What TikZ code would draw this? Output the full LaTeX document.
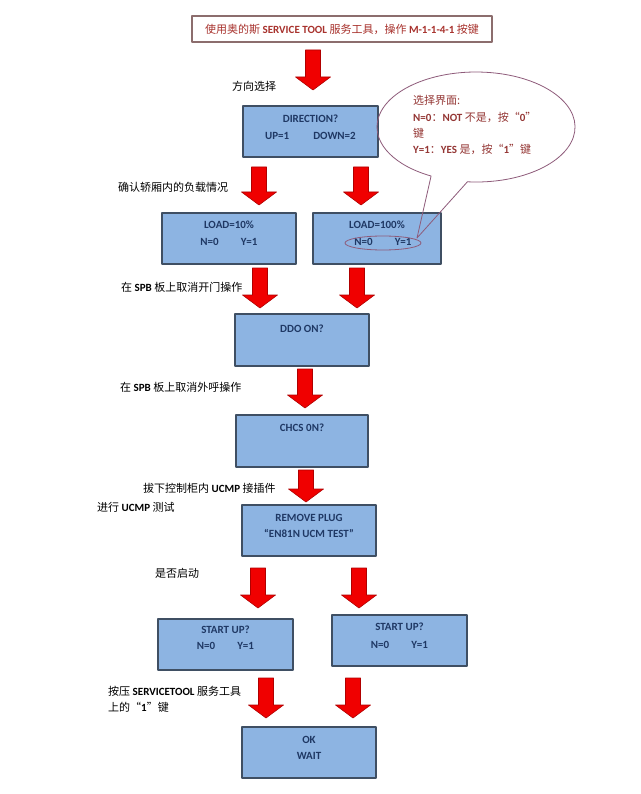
\documentclass[tikz,border=0pt]{standalone}
\usepackage{fontspec}
\setmainfont{Carlito}
\newfontfamily\cjk{Noto Sans CJK SC}
\usetikzlibrary{calc}
\definecolor{panelblue}{HTML}{8DB4E2}
\definecolor{paneledge}{HTML}{3F4F63}
\definecolor{paneltext}{HTML}{1F3864}
\definecolor{flowred}{HTML}{F00000}
\definecolor{flowrededge}{HTML}{B00000}
\definecolor{notered}{HTML}{943634}
\definecolor{noteedge}{HTML}{8E5B7A}
\definecolor{titleedge}{HTML}{8C6D6D}
\definecolor{titlered}{HTML}{A8322D}

% Chinese runs inside mixed lines
\newcommand\zh[1]{{\cjk\mdseries #1}}
% Block arrow from a named top point to a named tip point
\newcommand\blockarrow[2]{%
  \filldraw[flowarrow] ($(#1)+(-7.5,0)$) -- ($(#1)+(7.5,0)$)
    -- ($(#2)+(7.5,-13)$) -- ($(#2)+(17.5,-13)$) -- (#2)
    -- ($(#2)+(-17.5,-13)$) -- ($(#2)+(-7.5,-13)$) -- cycle;}

\begin{document}
\begin{tikzpicture}[
  x=1pt,
  y=-1pt,
  line join=round,
  panel/.style={draw=paneledge,fill=panelblue,line width=1.1pt,inner sep=0pt},
  paneltxt/.style={text=paneltext,inner sep=0pt,font=\fontsize{11}{13}\selectfont\bfseries},
  remark/.style={anchor=west,inner sep=0pt,font=\fontsize{11}{13}\selectfont\bfseries},
  notetxt/.style={remark,text=notered},
  callout/.style={draw=noteedge,line width=0.8pt},
  flowarrow/.style={fill=flowred,draw=flowrededge,line width=0.6pt}
]
  % Match the original artwork frame.
  \useasboundingbox (0,0) rectangle (640,794);
  \fill[white] (0,0) rectangle (640,794);

  % Title bar.
  \node[draw=titleedge,line width=1.2pt,minimum width=300,minimum height=26,
    inner sep=0pt,text=titlered,font=\fontsize{11}{13}\selectfont\bfseries]
    (title) at (342,29)
    {\zh{使用奥的斯} SERVICE TOOL \zh{服务工具，操作} M-1-1-4-1 \zh{按键}};

  % Display panels of the service tool.
  \node[panel,minimum width=135,minimum height=51] (dir) at (310.5,131.5) {};
  \node[panel,minimum width=134,minimum height=51] (loadlow) at (229,238.5) {};
  \node[panel,minimum width=128,minimum height=51] (loadfull) at (377,238.5) {};
  \node[panel,minimum width=134,minimum height=52] (ddo) at (302,340) {};
  \node[panel,minimum width=132,minimum height=52] (chcs) at (302,441) {};
  \node[panel,minimum width=134,minimum height=51] (plug) at (309,530.5) {};
  \node[panel,minimum width=135,minimum height=51] (startl) at (225.5,644.5) {};
  \node[panel,minimum width=135,minimum height=51] (startr) at (399.5,640.5) {};
  \node[panel,minimum width=134,minimum height=51] (okwait) at (309,752.5) {};

  % Panel texts, two lines from the top edge.
  \node[paneltxt] (dirA) at ($(dir.north)+(0,13)$) {DIRECTION?};
  \node[paneltxt] (dirB) at ($(dir.north)+(0,30)$) {UP=1\hspace{24pt}DOWN=2};
  \node[paneltxt] (loadlowA) at ($(loadlow.north)+(0,12)$) {LOAD=10\%};
  \node[paneltxt] (loadlowB) at ($(loadlow.north)+(0,29)$) {N=0\hspace{22pt}Y=1};
  \node[paneltxt] (loadfullA) at ($(loadfull.north)+(0,12)$) {LOAD=100\%};
  \node[paneltxt] (loadfullB) at ($(loadfull.north)+(6,29)$) {N=0\hspace{22pt}Y=1};
  \node[paneltxt] (ddoA) at ($(ddo.north)+(0,15)$) {DDO ON?};
  \node[paneltxt] (chcsA) at ($(chcs.north)+(0,13)$) {CHCS 0N?};
  \node[paneltxt] (plugA) at ($(plug.north)+(0,13)$) {REMOVE PLUG};
  \node[paneltxt] (plugB) at ($(plug.north)+(0,29)$) {“EN81N UCM TEST”};
  \node[paneltxt] (startlA) at ($(startl.north)+(0,11)$) {START UP?};
  \node[paneltxt] (startlB) at ($(startl.north)+(0,27)$) {N=0\hspace{22pt}Y=1};
  \node[paneltxt] (startrA) at ($(startr.north)+(0,12)$) {START UP?};
  \node[paneltxt] (startrB) at ($(startr.north)+(0,30)$) {N=0\hspace{22pt}Y=1};
  \node[paneltxt] (okwaitA) at ($(okwait.north)+(0,13)$) {OK};
  \node[paneltxt] (okwaitB) at ($(okwait.north)+(0,29)$) {WAIT};

  % Step remarks on the left.
  \node[remark] (rmdir) at (232,86) {\zh{方向选择}};
  \node[remark] (rmload) at (118,187) {\zh{确认轿厢内的负载情况}};
  \node[remark] (rmddo) at (121,287) {\zh{在} SPB \zh{板上取消开门操作}};
  \node[remark] (rmchcs) at (120,387) {\zh{在} SPB \zh{板上取消外呼操作}};
  \node[remark] (rmplugA) at (143,488) {\zh{拔下控制柜内} UCMP \zh{接插件}};
  \node[remark] (rmplugB) at (97,507) {\zh{进行} UCMP \zh{测试}};
  \node[remark] (rmstart) at (155,573) {\zh{是否启动}};
  \node[remark] (rmokA) at (108,691) {\zh{按压} SERVICETOOL \zh{服务工具}};
  \node[remark] (rmokB) at (108,707) {\zh{上的“}1\zh{”键}};

  % Flow arrows: top point and tip of each.
  \coordinate (a1s) at (313,50);   \coordinate (a1e) at (313,90);
  \coordinate (a2ls) at (259,167); \coordinate (a2le) at (259,205);
  \coordinate (a2rs) at (361,167); \coordinate (a2re) at (361,205);
  \coordinate (a3ls) at (260,268); \coordinate (a3le) at (260,308);
  \coordinate (a3rs) at (357,268); \coordinate (a3re) at (357,308);
  \coordinate (a4s) at (305,369);  \coordinate (a4e) at (305,408);
  \coordinate (a5s) at (306,470);  \coordinate (a5e) at (306,502);
  \coordinate (a6ls) at (258,568); \coordinate (a6le) at (258,608);
  \coordinate (a6rs) at (359,568); \coordinate (a6re) at (359,608);
  \coordinate (a7ls) at (266,678); \coordinate (a7le) at (266,718);
  \coordinate (a7rs) at (353,678); \coordinate (a7re) at (353,718);
  \blockarrow{a1s}{a1e}
  \blockarrow{a2ls}{a2le}
  \blockarrow{a2rs}{a2re}
  \blockarrow{a3ls}{a3le}
  \blockarrow{a3rs}{a3re}
  \blockarrow{a4s}{a4e}
  \blockarrow{a5s}{a5e}
  \blockarrow{a6ls}{a6le}
  \blockarrow{a6rs}{a6re}
  \blockarrow{a7ls}{a7le}
  \blockarrow{a7rs}{a7re}

  % Speech bubble explaining the N/Y choice.
  \coordinate (bubtip) at (417,238);
  \draw[callout] (467.4,181.8) arc[start angle=95,end angle=-243,x radius=99,y radius=55]
    -- (bubtip) -- cycle;
  \draw[callout] (383,243) ellipse[x radius=38,y radius=7];
  \node[notetxt] (noteA) at (413,100) {\zh{选择界面:}};
  \node[notetxt] (noteB) at (413,117) {N=0\zh{：}NOT \zh{不是，按“}0\zh{”}};
  \node[notetxt] (noteC) at (413,133) {\zh{键}};
  \node[notetxt] (noteD) at (413,149) {Y=1\zh{：}YES \zh{是，按“}1\zh{”键}};
\end{tikzpicture}
\end{document}
